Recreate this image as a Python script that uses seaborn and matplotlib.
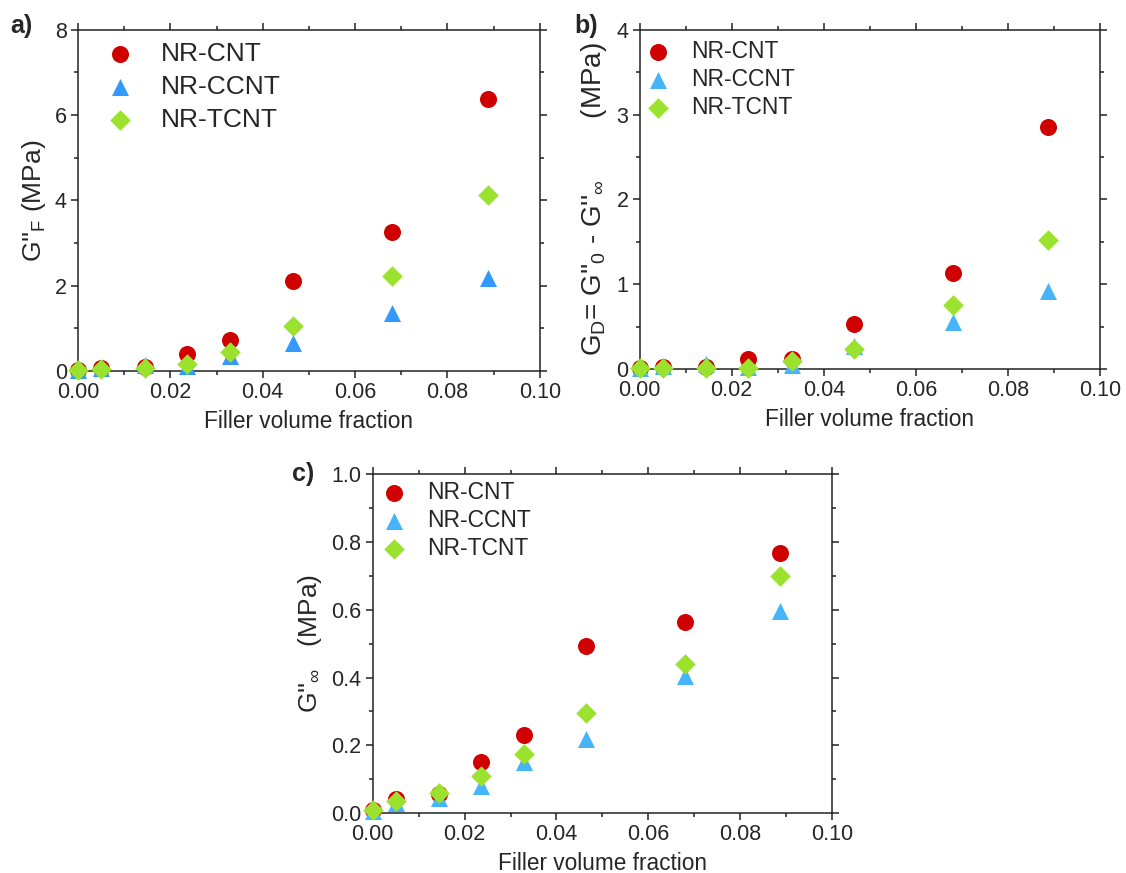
import numpy as np
import pandas as pd
import matplotlib
matplotlib.use("Agg")
import matplotlib.pyplot as plt
from matplotlib.ticker import MultipleLocator, FormatStrFormatter
import seaborn as sns

# ---------------- data ----------------
phi = [0.0, 0.005, 0.0145, 0.0236, 0.033, 0.0465, 0.068, 0.0887]
series = ["NR-CNT", "NR-CCNT", "NR-TCNT"]

gf_cnt  = [0.02, 0.07, 0.10, 0.40, 0.72, 2.10, 3.25, 6.37]
gf_ccnt = [0.02, 0.08, 0.15, 0.12, 0.35, 0.65, 1.35, 2.17]
gf_tcnt = [0.02, 0.04, 0.08, 0.17, 0.45, 1.05, 2.22, 4.12]

gd_cnt  = [0.01, 0.03, 0.03, 0.12, 0.12, 0.53, 1.13, 2.85]
gd_ccnt = [0.01, 0.04, 0.06, 0.03, 0.05, 0.28, 0.56, 0.92]
gd_tcnt = [0.01, 0.01, 0.02, 0.01, 0.10, 0.24, 0.76, 1.52]

ginf_cnt  = [0.010, 0.040, 0.055, 0.150, 0.230, 0.492, 0.563, 0.768]
ginf_ccnt = [0.005, 0.030, 0.045, 0.080, 0.150, 0.220, 0.405, 0.595]
ginf_tcnt = [0.010, 0.035, 0.060, 0.110, 0.175, 0.295, 0.440, 0.700]

red = "#D00000"
green = "#9AE22E"
markers = {"NR-CNT": "o", "NR-CCNT": "^", "NR-TCNT": "D"}
msize = {"NR-CNT": 150, "NR-CCNT": 150, "NR-TCNT": 110}

def long_df(a, b, c):
    rows = []
    for name, vals in zip(series, [a, b, c]):
        for x, y in zip(phi, vals):
            rows.append({"phi": x, "val": y, "sample": name})
    return pd.DataFrame(rows)

sns.set_theme(style="ticks")
plt.rcParams["font.family"] = ["Liberation Sans", "DejaVu Sans"]
plt.rcParams["mathtext.fontset"] = "custom"
plt.rcParams["mathtext.rm"] = "Liberation Sans"
plt.rcParams["mathtext.it"] = "Liberation Sans"
plt.rcParams["axes.linewidth"] = 1.1

fig = plt.figure(figsize=(11.26, 8.73), dpi=100)
ax_a = fig.add_axes([0.0693, 0.575, 0.410, 0.391])
ax_b = fig.add_axes([0.568, 0.577, 0.409, 0.389])
ax_c = fig.add_axes([0.331, 0.0687, 0.408, 0.388])

panels = [
    (ax_a, long_df(gf_cnt, gf_ccnt, gf_tcnt), (0, 8), 2, 1, "%d",
     r"G''$_{\mathregular{F}}$ (MPa)", 19, "a)", 19, "#3399FF",
     (0.0, 1.01), 0.34, 0.55, -0.147, 1.01),
    (ax_b, long_df(gd_cnt, gd_ccnt, gd_tcnt), (0, 4), 1, 0.5, "%d",
     r"G$_{\mathregular{D}}$= G''$_{\mathregular{0}}$ - G''$_{\infty}$" + "        (MPa)",
     20, "b)", 16.5, "#45B4F8",
     (-0.04, 1.01), 0.21, 0.45, -0.141, 1.01),
    (ax_c, long_df(ginf_cnt, ginf_ccnt, ginf_tcnt), (0, 1.0), 0.2, 0.1, "%.1f",
     r"G''$_{\infty}$" + "   (MPa)", 19, "c)", 16.5, "#45B4F8",
     (-0.034, 1.022), 0.23, 0.45, -0.176, 1.0),
]

for (ax, df, ylim, maj, mnr, fmt, ylabel, ylfs, tag, legfs, blue,
     legpos, lspace, htpad, tagx, tagy) in panels:
    colors = {"NR-CNT": red, "NR-CCNT": blue, "NR-TCNT": green}
    for name in series:
        sub = df[df["sample"] == name]
        sns.scatterplot(data=sub, x="phi", y="val", ax=ax, color=colors[name],
                        marker=markers[name], s=msize[name], linewidth=0,
                        label=name, clip_on=False, zorder=3)
    ax.set_xlim(0, 0.10)
    ax.set_ylim(*ylim)
    ax.xaxis.set_major_locator(MultipleLocator(0.02))
    ax.xaxis.set_minor_locator(MultipleLocator(0.01))
    ax.xaxis.set_major_formatter(FormatStrFormatter("%.2f"))
    ax.yaxis.set_major_locator(MultipleLocator(maj))
    ax.yaxis.set_minor_locator(MultipleLocator(mnr))
    ax.yaxis.set_major_formatter(FormatStrFormatter(fmt))
    ax.tick_params(which="both", direction="out", top=True, right=True,
                   labeltop=False, labelright=False, color="#222222", width=1.1)
    ax.tick_params(which="major", length=5, labelsize=15.5, pad=3)
    ax.tick_params(which="minor", length=3)
    for sp in ax.spines.values():
        sp.set_visible(True)
        sp.set_color("#222222")
    ax.set_xlabel("Filler volume fraction", fontsize=16.3, labelpad=5)
    ax.set_ylabel(ylabel, fontsize=ylfs, labelpad=5)
    ax.legend(loc="upper left", frameon=False, fontsize=legfs,
              handletextpad=htpad, labelspacing=lspace, borderaxespad=0.2,
              bbox_to_anchor=legpos)
    ax.text(tagx, tagy, tag, transform=ax.transAxes,
            fontsize=18, fontweight="bold", ha="left", va="center")

fig.savefig("out.png", dpi=100)
